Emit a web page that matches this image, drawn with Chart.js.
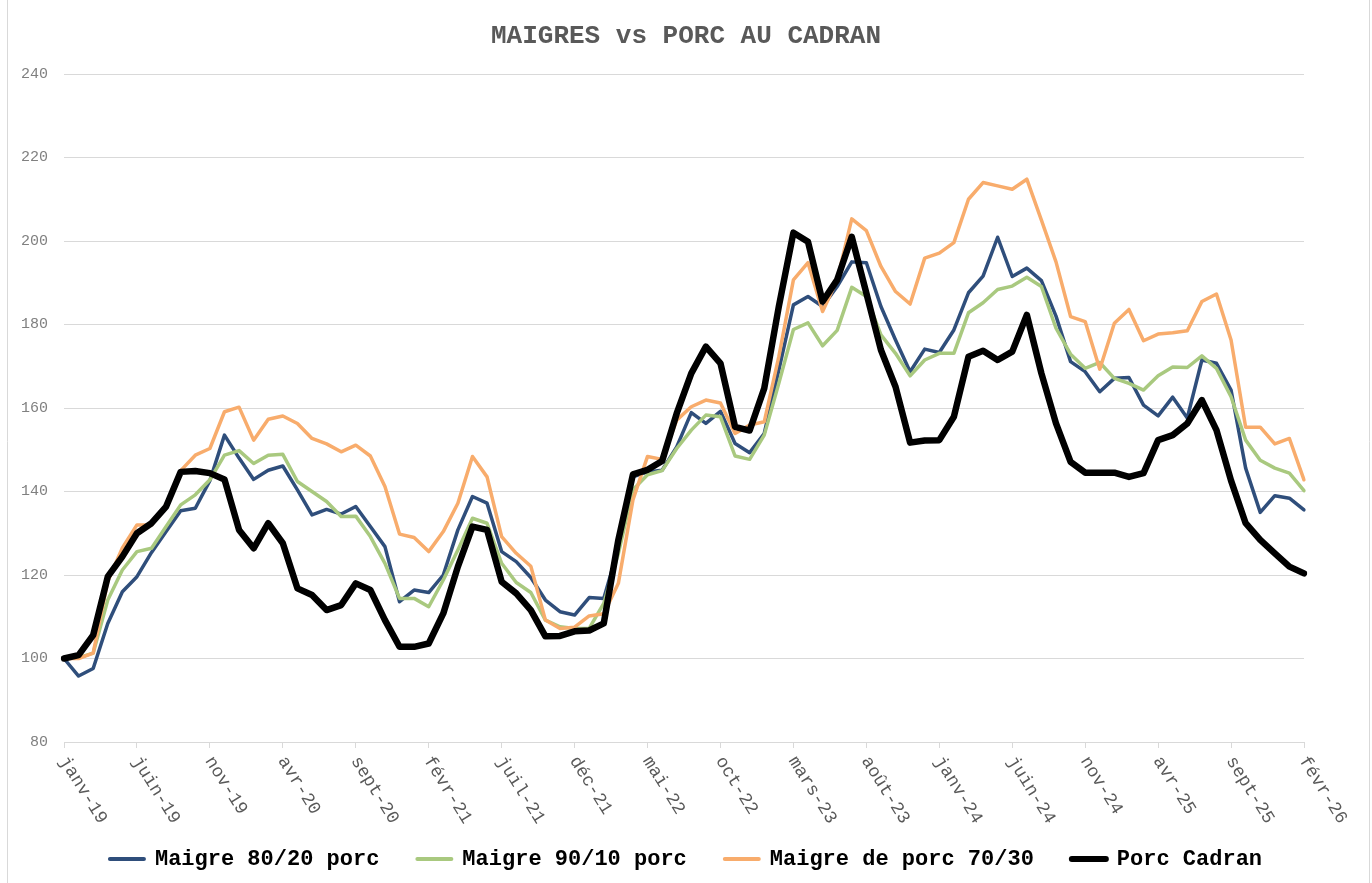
<!DOCTYPE html>
<html lang="fr">
<head>
<meta charset="utf-8">
<title>Maigres vs Porc au Cadran</title>
<script src="https://cdn.jsdelivr.net/npm/chart.js@4.4.1/dist/chart.umd.min.js"></script>
<style>
  html, body { margin: 0; padding: 0; background: #fff; }
  #cadre { width: 1372px; height: 883px; position: relative; }
</style>
</head>
<body>
<div id="cadre"><canvas id="graphique"></canvas></div>
<script>
// Libellés des mois (janv-19 -> févr-26)
const nomsMois = ['janv', 'févr', 'mars', 'avr', 'mai', 'juin', 'juil', 'août', 'sept', 'oct', 'nov', 'déc'];
const annees = ['19', '20', '21', '22', '23', '24', '25', '26'];

const moisLabels = [];
annees.forEach(a => {
    nomsMois.forEach(m => {
        if (moisLabels.length < 86) moisLabels.push(m + '-' + a);
    });
});

// Séries (indice base 100 = janv-19)
const maigre8020 = [100.0, 95.8, 97.6, 108.4, 116.0, 119.6, 125.4, 130.4, 135.4, 136.0,
    142.6, 153.5, 148.0, 142.9, 145.1, 146.1, 140.4, 134.4, 135.7, 134.6,
    136.4, 131.6, 126.8, 113.6, 116.4, 115.8, 120.0, 130.8, 138.8, 137.2,
    125.6, 123.2, 119.4, 114.0, 111.2, 110.4, 114.6, 114.4, 126.5, 143.5,
    144.7, 145.1, 150.7, 158.9, 156.3, 159.2, 151.5, 149.3, 153.9, 169.1,
    184.7, 186.7, 184.3, 189.1, 195.0, 194.8, 184.3, 176.3, 168.7, 174.1,
    173.3, 178.7, 187.6, 191.6, 200.9, 191.5, 193.5, 190.5, 182.0, 171.1,
    168.7, 163.9, 167.1, 167.3, 160.7, 158.1, 162.6, 157.6, 171.5, 170.7,
    164.3, 145.6, 135.0, 139.0, 138.4, 135.6];

const maigre9010 = [100.0, 100.2, 101.3, 114.0, 121.2, 125.6, 126.4, 131.6, 136.8, 139.2,
    142.8, 148.7, 149.8, 146.7, 148.7, 148.9, 142.4, 140.0, 137.6, 134.0,
    134.1, 129.2, 122.8, 114.4, 114.4, 112.4, 118.8, 126.0, 133.6, 132.4,
    122.8, 118.2, 115.8, 109.2, 107.6, 107.2, 107.2, 113.2, 125.1, 140.4,
    144.0, 145.0, 150.3, 154.7, 158.3, 157.9, 148.5, 147.7, 153.5, 165.9,
    178.8, 180.4, 174.9, 178.6, 188.9, 186.7, 177.5, 173.1, 167.7, 171.5,
    173.1, 173.1, 182.8, 185.2, 188.4, 189.2, 191.3, 189.1, 179.1, 172.9,
    169.5, 170.9, 167.1, 165.9, 164.3, 167.7, 169.8, 169.7, 172.5, 169.5,
    162.7, 152.3, 147.5, 145.6, 144.4, 140.2];

const maigre7030 = [100.0, 100.0, 101.3, 118.5, 126.5, 132.0, 132.0, 136.8, 145.0, 148.7,
    150.3, 159.1, 160.2, 152.3, 157.3, 158.1, 156.3, 152.7, 151.4, 149.5,
    151.1, 148.5, 141.2, 129.8, 129.0, 125.6, 130.4, 137.2, 148.4, 143.5,
    129.2, 125.2, 122.1, 109.2, 107.2, 107.5, 110.2, 110.7, 118.0, 138.0,
    148.4, 147.7, 157.1, 160.3, 161.9, 161.2, 153.9, 155.9, 156.7, 172.3,
    190.7, 194.8, 183.1, 190.7, 205.3, 202.5, 193.9, 187.9, 184.9, 195.9,
    197.1, 199.6, 210.0, 214.0, 213.2, 212.4, 214.8, 205.0, 195.0, 181.9,
    180.7, 169.3, 180.3, 183.6, 176.1, 177.7, 178.0, 178.5, 185.5, 187.3,
    176.3, 155.4, 155.4, 151.4, 152.7, 142.8];

const porcCadran = [100.0, 100.8, 105.6, 119.6, 124.4, 130.0, 132.4, 136.4, 144.7, 144.9,
    144.4, 142.9, 130.8, 126.4, 132.4, 127.6, 116.8, 115.2, 111.6, 112.8,
    118.0, 116.4, 109.2, 102.8, 102.8, 103.6, 110.8, 122.0, 131.6, 130.8,
    118.4, 115.6, 111.6, 105.3, 105.4, 106.5, 106.7, 108.4, 128.4, 144.1,
    145.2, 147.3, 158.7, 168.3, 174.7, 170.7, 155.5, 154.6, 164.7, 184.3,
    202.0, 199.8, 185.5, 190.7, 201.0, 187.5, 173.9, 165.1, 151.7, 152.2,
    152.3, 157.9, 172.3, 173.7, 171.5, 173.5, 182.3, 168.3, 156.3, 147.1,
    144.5, 144.5, 144.5, 143.5, 144.4, 152.3, 153.5, 156.3, 161.9, 154.7,
    142.6, 132.4, 128.4, 125.2, 122.0, 120.4];

const policeMono = '"Liberation Mono", "Courier New", monospace';

// Étiquettes de l'axe X inclinées (un mois sur cinq)
const etiquettesX = {
    id: 'etiquettesX',
    afterDraw(chart) {
        const ctx = chart.ctx;
        const sx = chart.scales.x;
        ctx.save();
        ctx.font = '18px ' + policeMono;
        ctx.fillStyle = '#595959';
        ctx.textAlign = 'left';
        ctx.textBaseline = 'middle';
        moisLabels.forEach((m, i) => {
            if (i % 5 !== 0) return;
            const x = sx.getPixelForValue(i);
            ctx.save();
            ctx.translate(x - 1, sx.top + 16);
            ctx.rotate(58 * Math.PI / 180);
            ctx.fillText(m, 0, 0);
            ctx.restore();
        });
        ctx.restore();
    }
};

// Bordure fine de la zone du graphique
const bordure = {
    id: 'bordure',
    afterDraw(chart) {
        const ctx = chart.ctx;
        ctx.save();
        ctx.strokeStyle = '#d9d9d9';
        ctx.lineWidth = 1;
        ctx.beginPath();
        ctx.moveTo(7.5, 0);
        ctx.lineTo(7.5, chart.height);
        ctx.moveTo(chart.width - 2.5, 0);
        ctx.lineTo(chart.width - 2.5, chart.height);
        ctx.stroke();
        ctx.restore();
    }
};

const ctx = document.getElementById('graphique').getContext('2d');
new Chart(ctx, {
    type: 'line',
    data: {
        labels: moisLabels,
        datasets: [
            { label: 'Maigre 80/20 porc', data: maigre8020, borderColor: '#2F4E7B', borderWidth: 3.5, order: 4 },
            { label: 'Maigre 90/10 porc', data: maigre9010, borderColor: '#A9C97F', borderWidth: 3.5, order: 3 },
            { label: 'Maigre de porc 70/30', data: maigre7030, borderColor: '#F8AC6C', borderWidth: 3.5, order: 2 },
            { label: 'Porc Cadran', data: porcCadran, borderColor: '#000000', borderWidth: 6.5, order: 1 }
        ]
    },
    options: {
        responsive: true,
        maintainAspectRatio: false,
        animation: false,
        devicePixelRatio: 1,
        layout: { padding: { left: 0, right: 0, top: 0, bottom: 3 } },
        elements: {
            point: { radius: 0, hoverRadius: 0 },
            line: { tension: 0, fill: false, borderJoinStyle: 'round', borderCapStyle: 'round' }
        },
        plugins: {
            title: {
                display: true,
                text: 'MAIGRES vs PORC AU CADRAN',
                color: '#595959',
                font: { family: policeMono, size: 26, weight: 'bold' },
                padding: { top: 21, bottom: 21.8 }
            },
            legend: {
                position: 'bottom',
                labels: {
                    usePointStyle: true,
                    pointStyleWidth: 34,
                    padding: 38,
                    color: '#595959',
                    font: { family: policeMono, size: 22, weight: 'bold' },
                    generateLabels: function(chart) {
                        return chart.data.datasets.map((d, i) => ({
                            text: d.label,
                            strokeStyle: d.borderColor,
                            fillStyle: d.borderColor,
                            lineWidth: i === 3 ? 6 : 4,
                            lineCap: 'round',
                            pointStyle: 'line',
                            hidden: false,
                            datasetIndex: i
                        }));
                    }
                }
            },
            tooltip: { enabled: false }
        },
        scales: {
            x: {
                offset: false,
                grid: {
                    drawOnChartArea: false,
                    drawTicks: true,
                    tickLength: 6,
                    color: c => (c.index % 5 === 0 ? '#d9d9d9' : 'rgba(0,0,0,0)')
                },
                border: { display: true, color: '#d9d9d9' },
                ticks: { display: false },
                afterFit: s => { s.height = 68; }
            },
            y: {
                min: 80,
                max: 240,
                ticks: {
                    stepSize: 20,
                    padding: 16,
                    color: '#808080',
                    font: { family: policeMono, size: 15 }
                },
                grid: { color: '#d9d9d9', drawTicks: false },
                border: { display: false },
                afterFit: s => { s.width = 64; }
            },
            y2: {
                position: 'right',
                grid: { display: false, drawTicks: false },
                border: { display: false },
                ticks: { display: false },
                afterFit: s => { s.width = 68; }
            }
        }
    },
    plugins: [etiquettesX, bordure]
});
</script>
</body>
</html>
